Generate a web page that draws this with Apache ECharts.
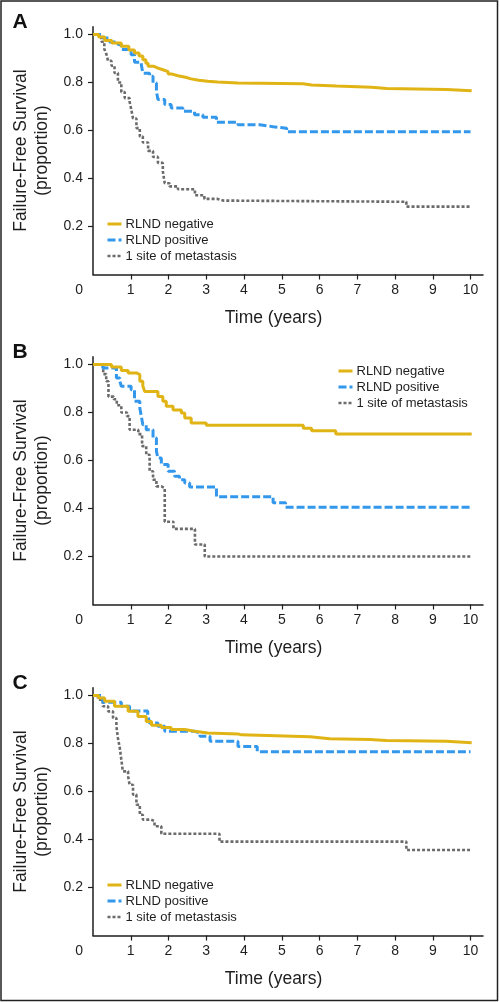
<!DOCTYPE html>
<html><head><meta charset="utf-8">
<script src="https://cdn.jsdelivr.net/npm/echarts@6/dist/echarts.min.js"></script>
<style>html,body{margin:0;padding:0;background:#fff}#c{width:500px;height:1002px}</style>
</head><body><div id="c"></div>
<script>
// ---- data ----
const seriesNames = ['RLND negative', 'RLND positive', '1 site of metastasis'];
const panelLabels = ['A', 'B', 'C'];
const xTicks = [1, 2, 3, 4, 5, 6, 7, 8, 9, 10];
const yTickLabels = [0, 0.2, 0.4, 0.6, 0.8, 1.0];
const xTitle = 'Time (years)';
const yTitle = 'Failure-Free Survival\n(proportion)';

// Panel A
const A_negative = [[0,1],[0.15,0.99],[0.31,0.975],[0.5,0.965],[0.75,0.951],[0.95,0.935],[1.1,0.923],[1.22,0.91],[1.32,0.895],[1.4,0.88],[1.46,0.868],[1.6,0.86],[1.72,0.853],[1.85,0.845],[1.99,0.835],[2.1,0.828],[2.25,0.822],[2.45,0.815],[2.6,0.809],[2.8,0.805],[3.04,0.802],[3.3,0.8],[3.57,0.798],[3.84,0.795],[5.56,0.79],[5.79,0.785],[6.45,0.78],[7.38,0.775],[7.78,0.771],[9.36,0.766],[10.03,0.766]];
const A_positive = [[0,1],[0.26,0.985],[0.44,0.969],[0.66,0.958],[0.75,0.937],[1.01,0.916],[1.1,0.884],[1.28,0.874],[1.32,0.839],[1.5,0.826],[1.59,0.798],[1.68,0.763],[1.72,0.729],[1.9,0.708],[2.07,0.694],[2.38,0.68],[2.69,0.666],[2.91,0.655],[3.27,0.634],[3.84,0.624],[4.42,0.616],[4.77,0.609],[5.13,0.595],[10.0,0.595]];
const A_oneSite = [[0,1],[0.22,0.97],[0.3,0.94],[0.35,0.92],[0.4,0.89],[0.49,0.87],[0.57,0.84],[0.66,0.8],[0.75,0.76],[0.84,0.735],[0.97,0.72],[1.01,0.69],[1.06,0.65],[1.15,0.61],[1.24,0.575],[1.32,0.55],[1.46,0.515],[1.59,0.49],[1.72,0.465],[1.85,0.43],[1.9,0.38],[2.03,0.367],[2.25,0.355],[2.7,0.33],[2.95,0.315],[3.3,0.308],[3.45,0.303],[8.3,0.283],[10.0,0.283]];

// Panel B
const B_negative = [[0,1],[0.49,0.99],[0.75,0.975],[0.93,0.965],[1.15,0.958],[1.24,0.93],[1.32,0.91],[1.37,0.888],[1.72,0.867],[1.85,0.847],[1.94,0.826],[2.12,0.81],[2.34,0.798],[2.43,0.777],[2.6,0.756],[3.0,0.747],[5.57,0.734],[5.79,0.724],[6.43,0.71],[10.03,0.71]];
const B_positive = [[0,1],[0.26,0.985],[0.62,0.944],[0.71,0.93],[0.75,0.909],[1.01,0.895],[1.1,0.847],[1.24,0.819],[1.28,0.784],[1.32,0.749],[1.41,0.728],[1.59,0.694],[1.68,0.638],[1.72,0.61],[1.81,0.583],[1.99,0.555],[2.16,0.534],[2.29,0.52],[2.43,0.506],[2.56,0.49],[3.27,0.449],[4.77,0.424],[5.1,0.405],[10.0,0.405]];
const B_oneSite = [[0,1],[0.27,0.96],[0.35,0.93],[0.41,0.866],[0.55,0.855],[0.63,0.83],[0.75,0.8],[0.9,0.785],[0.97,0.728],[1.2,0.71],[1.3,0.66],[1.41,0.624],[1.5,0.555],[1.59,0.52],[1.68,0.492],[1.81,0.485],[1.9,0.345],[2.13,0.315],[2.7,0.25],[2.96,0.2],[10.0,0.2]];

// Panel C
const C_negative = [[0,1],[0.15,0.99],[0.31,0.976],[0.57,0.955],[0.93,0.934],[1.19,0.913],[1.41,0.892],[1.55,0.876],[1.81,0.867],[2.07,0.858],[2.43,0.851],[2.69,0.844],[3.04,0.84],[3.84,0.836],[3.93,0.828],[5.75,0.82],[6.27,0.817],[7.33,0.813],[7.77,0.809],[9.36,0.803],[10.03,0.803]];
const C_positive = [[0,1],[0.26,0.972],[0.75,0.955],[0.97,0.935],[1.45,0.92],[1.5,0.885],[1.72,0.872],[1.9,0.851],[2.7,0.844],[2.83,0.83],[3.1,0.809],[3.84,0.788],[4.35,0.766],[10.0,0.766]];
const C_oneSite = [[0,1],[0.13,0.983],[0.26,0.955],[0.4,0.934],[0.53,0.906],[0.62,0.872],[0.66,0.823],[0.71,0.781],[0.75,0.733],[0.79,0.684],[0.93,0.663],[0.97,0.628],[1.06,0.587],[1.15,0.545],[1.24,0.503],[1.32,0.483],[1.54,0.476],[1.63,0.455],[1.81,0.424],[3.35,0.391],[8.3,0.356],[10.0,0.356]];

const panelData = [
  [A_negative, A_positive, A_oneSite],
  [B_negative, B_positive, B_oneSite],
  [C_negative, C_positive, C_oneSite]
];

// ---- styles / layout ----
const FONT = "'Liberation Sans', Arial, sans-serif";
const TXT = '#1e1e1e';
const colors = ['#E0B414', '#3398EC', '#6B6B6B'];
const lineDefs = [
  { width: 3, type: 'solid' },
  { width: 3, type: [8, 3] },
  { width: 2.6, type: [3, 2] }
];
const panelOffset = [0, 330, 661];
const legendPos = [
  { left: 106, top: 217 },
  { left: 337, top: 364 },
  { left: 106, top: 878 }
];

const grids = [], xAxes = [], yAxes = [], series = [], legends = [], titles = [];
panelOffset.forEach((off, p) => {
  grids.push({ left: 93, width: 390, top: off + 26.7, height: 247.8 });
  xAxes.push({
    type: 'value', gridIndex: p, min: 0, max: 10.33,
    axisLine: { lineStyle: { color: TXT, width: 1.5 } },
    axisTick: { show: true, length: 5, customValues: xTicks, lineStyle: { color: TXT, width: 1.2 } },
    axisLabel: { customValues: xTicks, margin: 9, fontSize: 14, color: TXT, fontFamily: FONT },
    splitLine: { show: false },
    name: xTitle, nameLocation: 'middle', nameGap: 35,
    nameTextStyle: { fontSize: 17.5, color: TXT, fontFamily: FONT, padding: [0, 29, 0, 0] }
  });
  yAxes.push({
    type: 'value', gridIndex: p, min: 0, max: 1.0325,
    axisLine: { show: true, lineStyle: { color: TXT, width: 1.5 } },
    axisTick: { show: true, length: 5, customValues: [0.2, 0.4, 0.6, 0.8, 1.0], lineStyle: { color: TXT, width: 1.2 } },
    axisLabel: {
      customValues: yTickLabels, margin: 10, fontSize: 14, color: TXT, fontFamily: FONT,
      formatter: v => (Math.abs(v) < 1e-9 ? '{z|0}' : v.toFixed(1)),
      rich: { z: { fontSize: 14, color: TXT, fontFamily: FONT, padding: [31, 0, 0, 0] } }
    },
    splitLine: { show: false },
    name: yTitle, nameLocation: 'middle', nameGap: 36, nameRotate: 90,
    nameTextStyle: { fontSize: 17.5, lineHeight: 21, color: TXT, fontFamily: FONT, align: 'center' }
  });
  panelData[p].forEach((d, k) => {
    series.push({
      type: 'line', name: seriesNames[k], xAxisIndex: p, yAxisIndex: p,
      data: d, step: 'end', symbol: 'none', showSymbol: false,
      lineStyle: { color: colors[k], width: lineDefs[k].width, type: lineDefs[k].type, cap: 'butt' },
      itemStyle: { color: colors[k] },
      z: 3 - k
    });
  });
  legends.push({
    orient: 'vertical', left: legendPos[p].left, top: legendPos[p].top,
    padding: 0, itemWidth: 14, itemHeight: 14, itemGap: 2,
    data: seriesNames.map((n, k) => ({
      name: n,
      lineStyle: { width: lineDefs[k].width, type: lineDefs[k].type, color: colors[k] }
    })),
    itemStyle: { opacity: 0, borderWidth: 0 },
    textStyle: { fontSize: 13, color: TXT, fontFamily: FONT, lineHeight: 14, padding: [0, 0, 0, -1] },
    selectedMode: false
  });
  titles.push({
    text: panelLabels[p], left: 7.5, top: off + 7,
    textStyle: { fontSize: 21, fontWeight: 'bold', color: '#111', fontFamily: FONT }
  });
});

const chart = echarts.init(document.getElementById('c'), null, { renderer: 'canvas' });
chart.setOption({
  animation: false,
  backgroundColor: '#fff',
  title: titles,
  grid: grids, xAxis: xAxes, yAxis: yAxes,
  legend: legends,
  series: series,
  graphic: [{
    type: 'rect', shape: { x: 1, y: 1, width: 496.5, height: 999.5 },
    style: { fill: 'none', stroke: '#222', lineWidth: 1.5 }, silent: true
  }]
});
</script></body></html>
